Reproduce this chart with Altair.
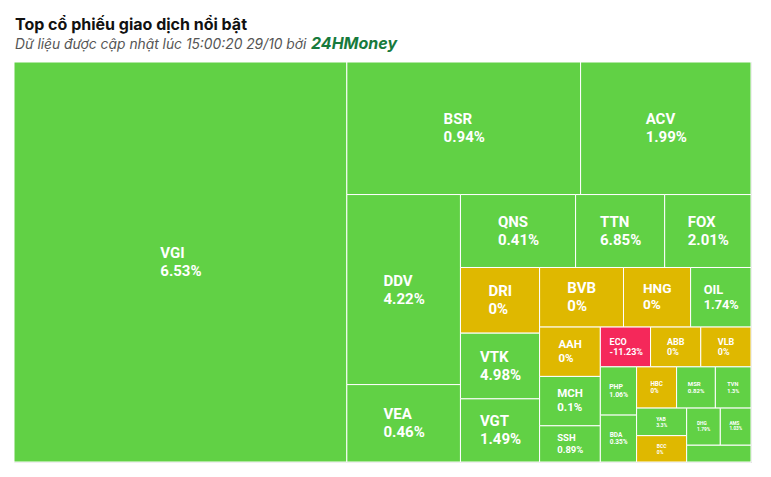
import altair as alt
import pandas as pd
import numpy as np

# ---- data ----
tickers = ["VGI", "BSR", "ACV", "DDV", "VEA", "QNS", "TTN", "FOX", "DRI", "VTK",
           "VGT", "BVB", "HNG", "OIL", "AAH", "MCH", "SSH", "ECO", "ABB", "VLB",
           "PHP", "BDA", "HBC", "MSR", "TVN", "YAB", "BCC", "DHG", "AMS", "Khác"]
# relative traded value (size of each tile)
values = [1332, 310, 226, 216, 88, 84, 65, 63, 52, 52,
          50, 50, 40, 36, 30, 30, 22, 20, 20, 20,
          17.5, 17, 16.5, 16, 14.7, 13.8, 13.2, 12.5, 11.4, 10.8]
# price change (%)
changes = [6.53, 0.94, 1.99, 4.22, 0.46, 0.41, 6.85, 2.01, 0, 4.98,
           1.49, 0, 0, 1.74, 0, 0.1, 0.89, -11.23, 0, 0,
           1.06, 0.35, 0, 0.82, 1.3, 3.3, 0, 1.79, 1.03, 0.5]
# how many tiles go in each strip of the squarified layout
strips = [1, 2, 2, 3, 3, 3, 3, 3, 2, 3, 2, 2, 1]

title_text = "Top cổ phiếu giao dịch nổi bật"
subtitle_text = "Dữ liệu được cập nhật lúc 15:00:20 29/10 bởi"
brand_text = "24HMoney"

W, H = 737, 400

# ---- squarified strip layout computed from the values ----
rects = []
x0, y0, x1, y1 = 0.0, 0.0, float(W), float(H)
idx = 0
for s, n in enumerate(strips):
    vals = values[idx: idx + n]
    rest = sum(values[idx:])
    ssum = sum(vals)
    if s % 2 == 0:  # vertical strip on the left
        w = (x1 - x0) * ssum / rest
        yy = y0
        for v in vals:
            h = (y1 - y0) * v / ssum
            rects.append((x0, yy, x0 + w, yy + h))
            yy += h
        x0 += w
    else:  # horizontal strip on top
        h = (y1 - y0) * ssum / rest
        xx = x0
        for v in vals:
            w = (x1 - x0) * v / ssum
            rects.append((xx, y0, xx + w, y0 + h))
            xx += w
        y0 += h
    idx += n

# Roboto Bold advance widths (em)
CW = {"0": .5615, "1": .5615, "2": .5615, "3": .5615, "4": .5615, "5": .5615,
      "6": .5615, "7": .5615, "8": .5615, "9": .5615, ".": .27, "%": .731, "-": .276,
      "A": .656, "B": .63, "C": .645, "D": .635, "E": .547, "F": .537, "G": .669,
      "H": .70, "I": .285, "K": .626, "L": .529, "M": .862, "N": .695, "O": .678,
      "P": .631, "Q": .678, "R": .619, "S": .60, "T": .60, "V": .641, "Y": .599}


def tw(s, fs):
    return sum(CW.get(c, .6) for c in s) * fs


rows = []
for t, v, p, (a, b, c, d) in zip(tickers, values, changes, rects):
    area = (c - a) * (d - b)
    fs = float(np.interp(area, [1100, 1400, 1700, 2000, 3000, 3700, 4600],
                         [4.5, 5.2, 6.5, 9, 11.5, 13, 15]))
    pct = f"{p:g}%"
    cx, cy = (a + c) / 2, (b + d) / 2
    bw = max(tw(t, fs), tw(pct, fs))
    trend = "up" if p > 0 else ("down" if p < 0 else "flat")
    rows.append(dict(ticker=t, value=v, change=p, pct=pct, x0=a, x1=c, y0=b, y1=d,
                     fs=fs, xl=cx - bw / 2, yt=cy - 0.6 * fs, yp=cy + 0.6 * fs,
                     trend=trend, show=(d - b) >= 20))
df = pd.DataFrame(rows)

xs = alt.Scale(domain=[0, W], nice=False, zero=False)
ys = alt.Scale(domain=[0, H], nice=False, zero=False, reverse=True)

base = alt.Chart(df)
tiles = base.mark_rect(stroke="white", strokeWidth=1).encode(
    x=alt.X("x0:Q", scale=xs, axis=None),
    x2="x1:Q",
    y=alt.Y("y0:Q", scale=ys, axis=None),
    y2="y1:Q",
    color=alt.Color("trend:N", legend=None,
                    scale=alt.Scale(domain=["up", "flat", "down"],
                                    range=["#61D145", "#DFB800", "#F5285A"])),
    tooltip=["ticker:N", "pct:N"],
)
label_style = dict(align="left", baseline="middle", font="Roboto",
                   fontWeight="bold", color="white")
names = base.transform_filter("datum.show").mark_text(**label_style).encode(
    x=alt.X("xl:Q", scale=xs, axis=None),
    y=alt.Y("yt:Q", scale=ys, axis=None),
    text="ticker:N",
    size=alt.Size("fs:Q", scale=None, legend=None),
)
pcts = base.transform_filter("datum.show").mark_text(**label_style).encode(
    x=alt.X("xl:Q", scale=xs, axis=None),
    y=alt.Y("yp:Q", scale=ys, axis=None),
    text="pct:N",
    size=alt.Size("fs:Q", scale=None, legend=None),
)
title = alt.Chart(pd.DataFrame({"t": [title_text]})).mark_text(
    align="left", baseline="alphabetic", font="Inter", fontWeight="bold",
    fontSize=16, color="#111111"
).encode(x=alt.value(1), y=alt.value(-32), text="t:N")
sub = alt.Chart(pd.DataFrame({"t": [subtitle_text]})).mark_text(
    align="left", baseline="alphabetic", font="Inter", fontStyle="italic",
    fontSize=13.8, color="#555555"
).encode(x=alt.value(1), y=alt.value(-13), text="t:N")
brand = alt.Chart(pd.DataFrame({"t": [brand_text]})).mark_text(
    align="left", baseline="alphabetic", font="Inter", fontStyle="italic",
    fontWeight="bold", fontSize=16, color="#177A3C"
).encode(x=alt.value(297), y=alt.value(-13), text="t:N")

chart = alt.layer(tiles, names, pcts, title, sub, brand).properties(
    width=W, height=H,
    autosize=alt.AutoSizeParams(type="none"),
    padding={"left": 6, "top": 54, "right": 12, "bottom": 6},
).configure_view(stroke=None).configure(background="white")

chart.save("out.html", embed_options={"renderer": "svg", "actions": False})
